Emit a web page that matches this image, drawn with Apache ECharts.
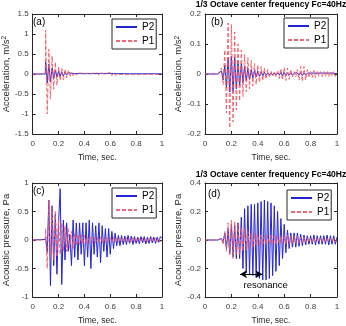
<!DOCTYPE html>
<html>
<head>
<meta charset="utf-8">
<script src="https://cdn.jsdelivr.net/npm/echarts@6/dist/echarts.min.js"></script>
<style>
  html, body { margin: 0; padding: 0; background: #fff; }
  #chart { width: 346px; height: 326px; }
</style>
</head>
<body>
<div id="chart"></div>
<script>
// time of every read-off extremum (sec), shared by all traces
const tGrid = [0, 0.0975, 0.1, 0.1125, 0.125, 0.1375, 0.15, 0.1625, 0.175, 0.1875, 0.2, 0.2125, 0.225, 0.2375, 0.25, 0.2625,
  0.275, 0.2875, 0.3, 0.3125, 0.325, 0.3375, 0.35, 0.3625, 0.375, 0.3875, 0.4, 0.4125, 0.425, 0.4375, 0.45, 0.4625,
  0.475, 0.4875, 0.5, 0.5125, 0.525, 0.5375, 0.55, 0.5625, 0.575, 0.5875, 0.6, 0.6125, 0.625, 0.6375, 0.65, 0.6625,
  0.675, 0.6875, 0.7, 0.7125, 0.725, 0.7375, 0.75, 0.7625, 0.775, 0.7875, 0.8, 0.8125, 0.825, 0.8375, 0.85, 0.8625,
  0.875, 0.8875, 0.9, 0.9125, 0.925, 0.9375, 0.95, 0.9625, 0.975, 0.9875, 1.0]

// (a) acceleration, broadband
const aP1 = [0, 0,
  1.1, -1.0, 0.62, -0.62, 0.45, -0.38, 0.3, -0.28, 0.18, -0.16,
  0.15, -0.15, 0.12, -0.1, 0.1, -0.07, 0.05, -0.04, 0.03, -0.03,
  0.025, -0.02, 0.02, -0.02, 0.02, -0.02, 0.015, -0.015, 0.015, -0.015,
  0.02, -0.02, 0.03, -0.03, 0.025, -0.02, 0.015, -0.02, 0.02, -0.03,
  0.035, -0.04, 0.035, -0.03, 0.02, -0.015, 0.015, -0.01, 0.015, -0.02,
  0.02, -0.015, 0.01, -0.01, 0.01, -0.01, 0.015, -0.015, 0.01, -0.01,
  0.01, -0.01, 0.01, -0.01, 0.01, -0.01, 0.01, -0.01, 0.01, -0.01,
  0.01, -0.01, 0]
const aP2 = [0, 0,
  0.32, -0.22, 0.25, -0.2, 0.15, -0.12, 0.1, -0.08, 0.07, -0.06,
  0.05, -0.05, 0.04, -0.03, 0.03, -0.02, 0.02, -0.015, 0.01, -0.01,
  0.01, -0.01, 0.01, -0.01, 0.008, -0.008, 0.008, -0.008, 0.008, -0.008,
  0.01, -0.01, 0.012, -0.012, 0.01, -0.008, 0.008, -0.01, 0.012, -0.015,
  0.015, -0.015, 0.012, -0.01, 0.008, -0.008, 0.008, -0.008, 0.008, -0.008,
  0.008, -0.008, 0.006, -0.006, 0.006, -0.006, 0.006, -0.006, 0.006, -0.006,
  0.006, -0.006, 0.006, -0.006, 0.006, -0.006, 0.006, -0.006, 0.006, -0.006,
  0.006, -0.006, 0]

// (b) acceleration, 40 Hz band
const bP1 = [0, 0,
  0, 0, 0.02, -0.035, 0.08, -0.13, 0.17, -0.18, 0.165, -0.16,
  0.14, -0.12, 0.1, -0.09, 0.08, -0.075, 0.065, -0.06, 0.055, -0.05,
  0.045, -0.04, 0.035, -0.035, 0.03, -0.028, 0.025, -0.022, 0.02, -0.017,
  0.015, -0.012, 0.01, -0.008, 0.008, -0.01, 0.012, -0.015, 0.018, -0.02,
  0.022, -0.022, 0.02, -0.018, 0.015, -0.01, 0.008, -0.01, 0.015, -0.02,
  0.025, -0.025, 0.025, -0.02, 0.015, -0.012, 0.01, -0.012, 0.012, -0.012,
  0.01, -0.008, 0.008, -0.008, 0.008, -0.008, 0.01, -0.01, 0.008, -0.008,
  0.008, -0.008, 0.005]
const bP2 = [0, 0,
  0, 0, 0.01, -0.02, 0.03, -0.045, 0.055, -0.06, 0.06, -0.06,
  0.055, -0.05, 0.045, -0.04, 0.035, -0.03, 0.025, -0.022, 0.02, -0.018,
  0.015, -0.013, 0.012, -0.01, 0.01, -0.008, 0.008, -0.006, 0.006, -0.005,
  0.004, -0.004, 0.004, -0.004, 0.004, -0.004, 0.004, -0.004, 0.005, -0.005,
  0.005, -0.005, 0.004, -0.004, 0.004, -0.004, 0.003, -0.003, 0.004, -0.004,
  0.005, -0.005, 0.004, -0.004, 0.003, -0.003, 0.003, -0.003, 0.003, -0.003,
  0.003, -0.003, 0.003, -0.003, 0.003, -0.003, 0.003, -0.003, 0.003, -0.003,
  0.003, -0.003, 0]

// (c) acoustic pressure, broadband
const cP1 = [0, 0,
  0.2, -0.5, 0.7, -0.3, 0.6, -0.35, 0.5, -0.3, 0.35, -0.25,
  0.3, -0.2, 0.25, -0.2, 0.2, -0.15, 0.15, -0.15, 0.12, -0.1,
  0.1, -0.08, 0.1, -0.08, 0.08, -0.06, 0.06, -0.06, 0.05, -0.05,
  0.05, -0.05, 0.05, -0.04, 0.05, -0.05, 0.04, -0.04, 0.05, -0.04,
  0.04, -0.04, 0.05, -0.04, 0.04, -0.04, 0.04, -0.035, 0.04, -0.04,
  0.04, -0.035, 0.035, -0.035, 0.04, -0.03, 0.035, -0.035, 0.03, -0.03,
  0.035, -0.03, 0.03, -0.03, 0.035, -0.03, 0.03, -0.03, 0.03, -0.03,
  0.03, -0.03, 0.02]
const cP2 = [0, 0.01,
  0.05, -0.22, 0.7, -0.8, 0.6, -0.45, 0.45, -0.6, 0.3, 0.9,
  -0.78, 0.35, -0.35, 0.3, -0.2, 0.1, -0.45, 0.35, -0.3, 0.3,
  -0.35, 0.3, -0.25, 0.3, -0.45, 0.3, -0.3, 0.35, -0.5, 0.3,
  -0.25, 0.25, -0.3, 0.3, -0.4, 0.25, -0.2, 0.2, -0.3, 0.2,
  -0.25, 0.15, -0.15, 0.12, -0.1, 0.08, -0.1, 0.08, -0.08, 0.07,
  -0.08, 0.08, -0.06, 0.07, -0.08, 0.06, -0.06, 0.05, -0.07, 0.06,
  -0.05, 0.06, -0.07, 0.05, -0.06, 0.06, -0.05, 0.05, -0.06, 0.05,
  -0.04, 0.06, 0.03]

// (d) acoustic pressure, 40 Hz band
const dP1 = [0, 0,
  0, 0, 0.015, -0.03, 0.06, -0.08, 0.12, -0.1, 0.14, -0.13,
  0.13, -0.1, 0.11, -0.1, 0.09, -0.08, 0.08, -0.07, 0.06, -0.06,
  0.05, -0.05, 0.05, -0.04, 0.04, -0.04, 0.035, -0.035, 0.03, -0.03,
  0.03, -0.03, 0.035, -0.03, 0.03, -0.03, 0.03, -0.025, 0.025, -0.025,
  0.03, -0.03, 0.035, -0.03, 0.03, -0.025, 0.025, -0.02, 0.025, -0.02,
  0.02, -0.02, 0.02, -0.015, 0.015, -0.015, 0.015, -0.015, 0.012, -0.012,
  0.012, -0.012, 0.012, -0.012, 0.012, -0.012, 0.012, -0.012, 0.012, -0.012,
  0.012, -0.012, 0.01]
const dP2 = [0, 0,
  0, 0, 0.01, -0.02, 0.05, -0.06, 0.08, -0.1, 0.11, -0.12,
  0.1, -0.13, 0.12, -0.13, 0.16, -0.2, 0.22, -0.23, 0.24, -0.24,
  0.25, -0.25, 0.25, -0.26, 0.26, -0.27, 0.27, -0.28, 0.28, -0.28,
  0.27, -0.27, 0.26, -0.25, 0.24, -0.22, 0.2, -0.18, 0.15, -0.13,
  0.11, -0.09, 0.07, -0.06, 0.05, -0.05, 0.05, -0.05, 0.05, -0.045,
  0.04, -0.04, 0.035, -0.035, 0.03, -0.03, 0.03, -0.03, 0.035, -0.035,
  0.03, -0.03, 0.03, -0.03, 0.03, -0.03, 0.035, -0.035, 0.03, -0.03,
  0.03, -0.03, 0.02]

const xTicks = [0, 1, 0.2]        // min, max, step
const yRanges = [[-1.5, 1.5, 0.5], [-0.2, 0.2, 0.1], [-1, 1, 0.5], [-0.4, 0.4, 0.2]]
const yNames = ['Acceleration, m/s{sup|2}', 'Acceleration, m/s{sup|2}', 'Acoustic pressure, Pa', 'Acoustic pressure, Pa']
const panelTags = ['(a)', '(b)', '(c)', '(d)']
const bandTitle = '1/3 Octave center frequency Fc=40Hz'

const FONT = '"Liberation Sans", Arial, Helvetica, sans-serif'
const BLUE = '#2323d6'
const RED = '#f25866'
const AXIS = '#262626'

const grids = [
  { left: 29, top: 14, width: 133, height: 120 },
  { left: 205, top: 14, width: 132, height: 120 },
  { left: 29, top: 183, width: 133, height: 121 },
  { left: 205, top: 183, width: 132, height: 121 }
]

const xAxis = []
const yAxis = []
grids.forEach((g, i) => {
  const base = {
    type: 'value',
    gridIndex: i,
    axisLine: { show: true, onZero: false, lineStyle: { color: AXIS, width: 1 } },
    axisTick: { show: true, inside: true, length: 3, lineStyle: { color: AXIS } },
    splitLine: { show: false }
  }
  xAxis.push(Object.assign({}, base, {
    position: 'bottom',
    min: xTicks[0], max: xTicks[1], interval: xTicks[2],
    axisLabel: { fontSize: 8, color: '#404040', margin: 6, fontFamily: FONT },
    name: 'Time, sec.',
    nameLocation: 'middle',
    nameGap: 19,
    nameTextStyle: { fontSize: 8.5, color: '#262626', fontFamily: FONT }
  }))
  xAxis.push(Object.assign({}, base, {
    position: 'top',
    min: xTicks[0], max: xTicks[1], interval: xTicks[2],
    axisLabel: { show: false }
  }))
  const r = yRanges[i]
  yAxis.push(Object.assign({}, base, {
    position: 'left',
    min: r[0], max: r[1], interval: r[2],
    axisLabel: { fontSize: 8, color: '#404040', margin: 4, fontFamily: FONT },
    name: yNames[i],
    nameLocation: 'middle',
    nameRotate: 90,
    nameGap: 19,
    nameTextStyle: {
      fontSize: 9.5, color: '#262626', fontFamily: FONT,
      rich: { sup: { fontSize: 6.5, verticalAlign: 'top', color: '#262626', fontFamily: FONT } }
    }
  }))
  yAxis.push(Object.assign({}, base, {
    position: 'right',
    min: r[0], max: r[1], interval: r[2],
    axisLabel: { show: false }
  }))
})

const pairs = (vals) => tGrid.map((t, i) => [t, vals[i]])

const traces = [[aP2, aP1], [bP2, bP1], [cP2, cP1], [dP2, dP1]]
const series = []
traces.forEach((tr, i) => {
  series.push({
    name: 'P2', type: 'line', xAxisIndex: 2 * i, yAxisIndex: 2 * i,
    data: pairs(tr[0]), symbol: 'none', showSymbol: false,
    lineStyle: { color: BLUE, width: 1 }, itemStyle: { color: BLUE }
  })
  series.push({
    name: 'P1', type: 'line', xAxisIndex: 2 * i, yAxisIndex: 2 * i,
    data: pairs(tr[1]), symbol: 'none', showSymbol: false,
    lineStyle: { color: RED, width: 1, type: [4, 2], opacity: 0.9 }, itemStyle: { color: RED }
  })
})

// resonance annotation in (d)
series[7].markLine = {
  silent: true,
  symbol: ['arrow', 'arrow'],
  symbolSize: [6, 7],
  lineStyle: { color: '#000', width: 1, type: 'solid', opacity: 1 },
  label: { show: false },
  data: [[{ coord: [0.265, -0.24] }, { coord: [0.435, -0.24] }]]
}
series[7].markPoint = {
  silent: true,
  symbol: 'circle',
  symbolSize: 0,
  data: [{
    coord: [0.46, -0.315],
    label: { show: true, position: 'inside', formatter: 'resonance', color: '#000', fontSize: 9.5, fontFamily: FONT }
  }]
}

const legendBoxes = [
  { left: 112, top: 19 },
  { left: 284, top: 18 },
  { left: 112, top: 188 },
  { left: 287, top: 190 }
]
const legend = legendBoxes.map(p => ({
  orient: 'vertical',
  left: p.left,
  top: p.top,
  data: ['P2', 'P1'],
  itemWidth: 21,
  itemHeight: 8,
  itemGap: 4,
  padding: [3, 2, 3, 3],
  backgroundColor: '#fff',
  borderColor: AXIS,
  borderWidth: 1,
  selectedMode: false,
  itemStyle: { opacity: 0 },
  textStyle: { fontSize: 10, color: '#000', fontFamily: FONT }
}))

const title = [
  { text: bandTitle, left: 271, top: 0, textAlign: 'center', padding: 0,
    textStyle: { fontSize: 8.5, fontWeight: 'bold', color: '#000', fontFamily: FONT } },
  { text: bandTitle, left: 271, top: 170, textAlign: 'center', padding: 0,
    textStyle: { fontSize: 8.5, fontWeight: 'bold', color: '#000', fontFamily: FONT } }
]
const tagPos = [[33, 17], [211, 17], [33, 186], [208, 189]]
panelTags.forEach((tag, i) => {
  title.push({
    text: tag, left: tagPos[i][0], top: tagPos[i][1], padding: 0,
    textStyle: { fontSize: 10, fontWeight: 'normal', color: '#000', fontFamily: FONT }
  })
})

const chart = echarts.init(document.getElementById('chart'), null, { renderer: 'canvas' })
chart.setOption({
  animation: false,
  backgroundColor: '#fff',
  title,
  legend,
  grid: grids,
  xAxis,
  yAxis,
  series
})
</script>
</body>
</html>
